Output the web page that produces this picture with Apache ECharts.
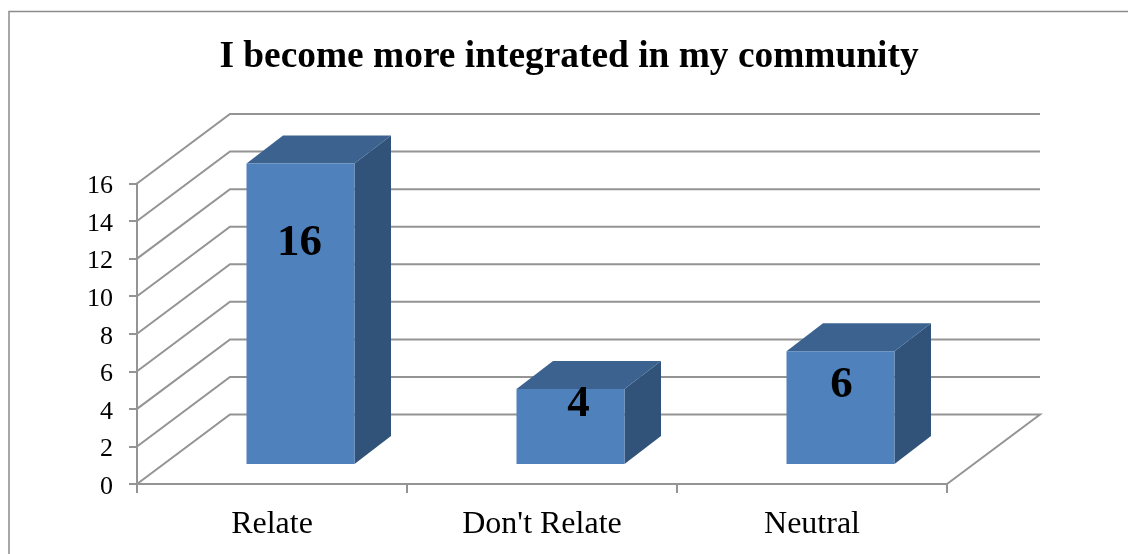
<!DOCTYPE html>
<html lang="en">
<head>
    <meta charset="UTF-8">
    <title>I become more integrated in my community</title>
    <script src="https://cdn.jsdelivr.net/npm/echarts@6/dist/echarts.min.js"></script>
    <style>
        html, body { margin: 0; padding: 0; background: #fff; }
        #main { width: 1128px; height: 554px; }
    </style>
</head>
<body>
<div id="main"></div>
<script>
    const titleText = 'I become more integrated in my community';
    const categories = ['Relate', "Don't Relate", 'Neutral'];
    const answers = [16, 4, 6];
    const yTicks = [0, 2, 4, 6, 8, 10, 12, 14, 16];

    // fake 3d: pixel offsets for the back wall and the bar boxes
    const wallDepth = [93, -69.5];
    const barShift = [28.5, -20];
    const barDepth = [36.5, -28];
    const barRatio = 0.4;
    // label centre relative to the middle of the bar's top front edge
    const labelShift = [[-1, 80], [8, 15], [1, 34]];

    const fontName = '"Liberation Serif", "Times New Roman", serif';
    const lineColor = '#949494';

    function renderWall(params, api) {
        const rect = params.coordSys;
        const y = api.coord([0, api.value(0)])[1];
        const x0 = rect.x, x1 = rect.x + rect.width;
        const points = [
            [x0, y],
            [x0 + wallDepth[0], y + wallDepth[1]],
            [x1 + wallDepth[0], y + wallDepth[1]]
        ];
        // the floor gets its right hand edge too
        if (api.value(0) === 0) points.push([x1, y]);
        return {
            type: 'polyline',
            shape: { points: points },
            style: { stroke: lineColor, lineWidth: 2, fill: null }
        };
    }

    function renderBar(params, api) {
        const top = api.coord([api.value(0), api.value(1)]);
        const base = api.coord([api.value(0), 0]);
        const w = api.size([1, 0])[0] * barRatio;
        const xl = top[0] + barShift[0] - w / 2;
        const xr = xl + w;
        const yt = top[1] + barShift[1];
        const yb = base[1] + barShift[1];
        const dx = barDepth[0], dy = barDepth[1];
        const shift = labelShift[params.dataIndex];
        return {
            type: 'group',
            children: [
                {
                    type: 'polygon',
                    shape: { points: [[xr, yt], [xr + dx, yt + dy], [xr + dx, yb + dy], [xr, yb]] },
                    style: { fill: '#325379' }
                },
                {
                    type: 'polygon',
                    shape: { points: [[xl, yt], [xl + dx, yt + dy], [xr + dx, yt + dy], [xr, yt]] },
                    style: { fill: '#3C6390' }
                },
                {
                    type: 'rect',
                    shape: { x: xl, y: yt, width: w, height: yb - yt },
                    style: { fill: '#4F81BD' }
                },
                {
                    type: 'text',
                    style: {
                        x: (xl + xr) / 2 + shift[0],
                        y: yt + shift[1],
                        text: String(api.value(1)),
                        fill: '#000',
                        font: 'bold 45px ' + fontName,
                        textAlign: 'center',
                        textVerticalAlign: 'middle'
                    }
                }
            ]
        };
    }

    const myChart = echarts.init(document.getElementById('main'), null, { renderer: 'canvas' });
    const option = {
        animation: false,
        backgroundColor: '#fff',
        title: {
            text: titleText,
            left: 564,
            top: 34,
            textAlign: 'center',
            textStyle: { fontFamily: fontName, fontWeight: 'bold', fontSize: 37.4, color: '#000' }
        },
        graphic: [{
            type: 'polyline',
            silent: true,
            shape: { points: [[9, 554], [9, 11.5], [1128, 11.5]] },
            style: { stroke: '#8c8c8c', lineWidth: 1.5, fill: null }
        }],
        grid: { left: 137, right: 181, top: 183.5, bottom: 70 },
        xAxis: {
            type: 'category',
            data: categories,
            axisLine: { lineStyle: { color: lineColor, width: 2 } },
            axisTick: { show: true, length: 9, alignWithLabel: false, lineStyle: { color: lineColor, width: 2 } },
            axisLabel: { margin: 25, fontFamily: fontName, fontSize: 32, color: '#000' }
        },
        yAxis: {
            type: 'value',
            min: 0,
            max: 16,
            interval: 2,
            axisLine: { show: true, lineStyle: { color: lineColor, width: 2 } },
            axisTick: { show: true, length: 8, lineStyle: { color: lineColor, width: 2 } },
            splitLine: { show: false },
            axisLabel: { margin: 24, verticalAlign: 'top', lineHeight: 6, fontFamily: fontName, fontSize: 26, color: '#000' }
        },
        series: [
            {
                type: 'custom',
                silent: true,
                z: 1,
                renderItem: renderWall,
                encode: { y: 0 },
                data: yTicks.map(t => [t])
            },
            {
                type: 'custom',
                silent: true,
                z: 2,
                renderItem: renderBar,
                encode: { x: 0, y: 1 },
                data: answers.map((v, i) => [i, v])
            }
        ]
    };
    myChart.setOption(option);
</script>
</body>
</html>
